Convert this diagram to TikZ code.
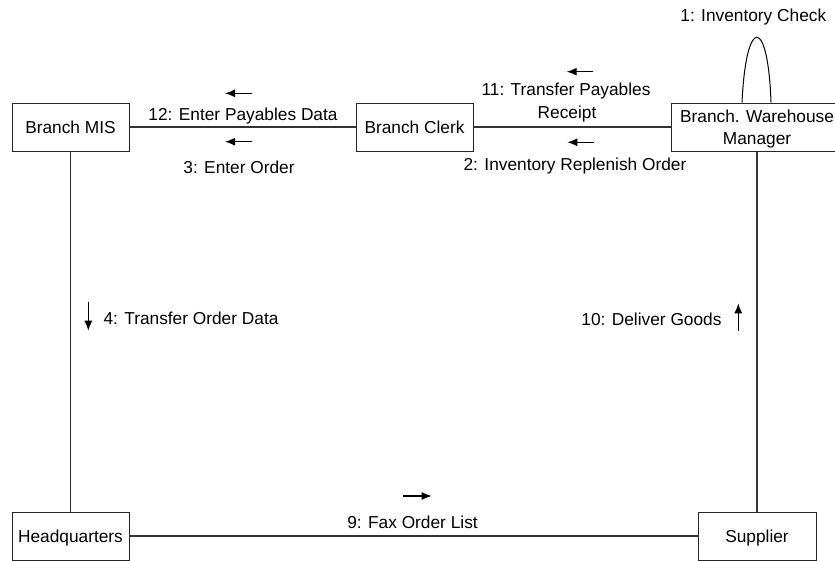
\documentclass[tikz,border=0pt]{standalone}
\usepackage{fontspec}
\setmainfont{Liberation Sans}
\usetikzlibrary{arrows.meta}
\tikzset{
  box/.style={draw=black!85, line width=1pt, rectangle, inner sep=0pt,
    font=\fontsize{17.3}{21.7}\selectfont, text height=12.4pt, text depth=0pt},
  link/.style={draw=black!80, line width=1.1pt},
  lbl/.style={font=\fontsize{17.3}{21.7}\selectfont, inner sep=0pt, anchor=base},
  msg/.style={line width=1.2pt, -{Latex[length=10pt,width=8pt]}},
}
\begin{document}
\begin{tikzpicture}[x=1pt,y=-1pt]
\useasboundingbox (0,0) rectangle (835,560);
\clip (0,0) rectangle (835,560);
% boxes
\node[box, minimum width=117pt, minimum height=48pt] (mis) at (70.5,127) {Branch MIS};
\node[box, minimum width=117pt, minimum height=48pt] (clerk) at (414.5,127) {Branch Clerk};
\node[box, minimum width=172pt, minimum height=48pt, align=center, text height=, text depth=-4pt] (mgr) at (757,127) {Branch. Warehouse\\Manager};
\node[box, minimum width=117pt, minimum height=48pt] (hq) at (70.5,536) {Headquarters};
\node[box, minimum width=118pt, minimum height=48pt] (sup) at (757,536) {Supplier};
% links
\draw[link] (mis) -- (clerk);
\draw[link] (clerk) -- (mgr);
\draw[link] (mis) -- (hq);
\draw[link] (mgr.south) -- (mgr.south |- sup.north);
\draw[link] (hq) -- (sup);
% self loop
\draw[black, line width=1pt] ([xshift=-15pt]mgr.north) .. controls ([xshift=-11pt,yshift=87pt]mgr.north) and ([xshift=11pt,yshift=87pt]mgr.north) .. ([xshift=14pt]mgr.north);
% labels
\node[lbl] (l1) at (753.3,21.7) {1: Inventory Check};
\node[lbl] (l12) at (243,120.7) {12: Enter Payables Data};
\node[lbl] (l3) at (239,173.3) {3: Enter Order};
\node[lbl] (l11a) at (566,95.7) {11: Transfer Payables};
\node[lbl] (l11b) at (567,118.3) {Receipt};
\node[lbl] (l2) at (575,170.7) {2: Inventory Replenish Order};
\node[lbl, anchor=base west] (l4) at (103.3,324.3) {4: Transfer Order Data};
\node[lbl, anchor=base east] (l10) at (721.7,325.5) {10: Deliver Goods};
\node[lbl] (l9) at (412.5,528.3) {9: Fax Order List};
% message arrows
\draw[msg] (252.3,93.3) -- (225,93.3);
\draw[msg] (252.3,141.7) -- (225,141.7);
\draw[msg] (593.3,71.7) -- (566.7,71.7);
\draw[msg] (594,142.3) -- (567.3,142.3);
\draw[msg] (88.3,301.7) -- (88.3,330.7);
\draw[msg] (738.3,330.7) -- (738.3,303.3);
\draw[msg] (403.3,496) -- (431.7,496);
\end{tikzpicture}
\end{document}
